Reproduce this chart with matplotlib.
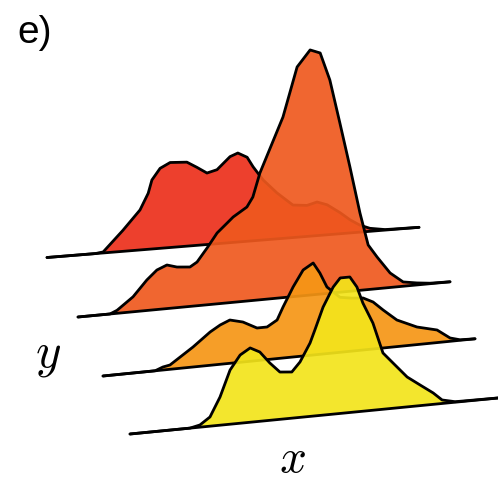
import numpy as np
import matplotlib
matplotlib.use('Agg')
import matplotlib.pyplot as plt
from matplotlib.transforms import Affine2D

plt.rcParams['mathtext.fontset'] = 'cm'

# positions along each ridge baseline (0..100) and heights of the curves
U1 = [0, 13, 15.1, 20.4, 25.0, 27.2, 28.2, 30.4, 33.1, 37.6, 40.3, 43.0, 45.7, 49.2,
      51.3, 53.8, 55.4, 58.1, 61.8, 66.1, 69.9, 72.6, 75.3, 78.8, 81.5, 84.1, 86.8,
      90.9, 100]
H1 = [0, 0, 0.01, 0.21, 0.40, 0.56, 0.69, 0.80, 0.85, 0.84, 0.78, 0.715, 0.74, 0.86,
      0.89, 0.84, 0.74, 0.60, 0.46, 0.325, 0.31, 0.336, 0.30, 0.21, 0.13, 0.07, 0.03,
      0.005, 0]

U2 = [0, 8.6, 10.5, 14.8, 18.5, 21.2, 23.9, 26.6, 30.1, 32.0, 34.7, 37.4, 40.1, 41.7,
      45.4, 47.0, 48.9, 55.1, 58.9, 62.4, 65.1, 67.7, 70.4, 73.1, 75.8, 78.0, 80.4,
      83.9, 87.4, 91.1, 94.6, 100]
H2 = [0, 0, 0.03, 0.15, 0.305, 0.395, 0.436, 0.406, 0.394, 0.437, 0.568, 0.709, 0.799,
      0.853, 0.94, 1.034, 1.268, 1.806, 2.293, 2.451, 2.411, 2.132, 1.692, 1.243, 0.773,
      0.446, 0.317, 0.145, 0.043, 0.02, 0.005, 0]

U3 = [0, 14, 16.1, 18.0, 24.2, 28.8, 31.5, 34.1, 37.6, 41.4, 44.1, 46.8, 48.4, 51.1,
      53.8, 56.5, 58.3, 60.2, 63.7, 66.9, 69.9, 72.6, 75.3, 79.0, 84.4, 89.8, 93.3,
      96, 100]
H3 = [0, 0, 0.03, 0.043, 0.20, 0.333, 0.393, 0.433, 0.40, 0.326, 0.326, 0.386, 0.51,
      0.70, 0.86, 0.92, 0.813, 0.666, 0.55, 0.53, 0.52, 0.47, 0.38, 0.266, 0.176,
      0.126, 0.033, 0.005, 0]

U4 = [0, 16.1, 18.8, 21.5, 24.2, 26.9, 29.6, 32.3, 34.9, 37.6, 40.3, 43.5, 45.7, 48.4,
      49.7, 51.9, 54.6, 56.5, 59.1, 61.0, 62.6, 65.3, 68.0, 70.7, 74.5, 78.0, 81.5,
      83.9, 87.4, 100]
H4 = [0, 0, 0.022, 0.092, 0.282, 0.542, 0.682, 0.743, 0.693, 0.573, 0.473, 0.462,
      0.554, 0.734, 0.86, 1.08, 1.27, 1.355, 1.355, 1.248, 1.082, 0.872, 0.563, 0.453,
      0.299, 0.206, 0.114, 0.035, 0.005, 0]

RIDGES = [(U1, H1), (U2, H2), (U3, H3), (U4, H4)]
COLORS = ['#ec301b', '#ef591e', '#f69615', '#f3e41b']

# baseline start (px), baseline slope, for each ridge from back to front
ORIGINS = [(47, 257.5), (78, 317), (103, 376), (130, 434)]
SLOPES = [0.0811, 0.0946, 0.100, 0.0978]
KX = 3.72     # px per unit along the baseline
KH = 100.0    # px per unit of height

fig = plt.figure(figsize=(4.98, 4.83), dpi=100)
ax = fig.add_axes([0, 0, 1, 1])

for i, ((u, h), col, (x0, y0), s) in enumerate(zip(RIDGES, COLORS, ORIGINS, SLOPES)):
    u = np.asarray(u, float)
    h = np.asarray(h, float)
    tr = Affine2D(np.array([[KX, 0, x0],
                            [-s * KX, -KH, y0],
                            [0, 0, 1]])) + ax.transData
    # each ridge (fill + outline) sits above the ones behind it
    z = 2 * i + 1
    ax.fill_between(u, 0, h, transform=tr, facecolor=col, alpha=0.92,
                    edgecolor='none', zorder=z)
    ax.plot(u, np.zeros_like(u), transform=tr, color='black', lw=2.0,
            solid_capstyle='round', zorder=z + 0.5)
    ax.plot(u, h, transform=tr, color='black', lw=2.0, solid_joinstyle='round',
            solid_capstyle='round', zorder=z + 0.5)

ax.set_xlim(0, 498)
ax.set_ylim(483, 0)
ax.axis('off')

fig.text(0.034, 0.911, 'e)', fontsize=28, family='Liberation Sans',
         ha='left', va='baseline')
fig.text(0.096, 0.265, r'$y$', fontsize=35, ha='center', va='center')
fig.text(0.588, 0.022, r'$x$', fontsize=34, ha='center', va='baseline')

fig.savefig('out.png', dpi=100)
